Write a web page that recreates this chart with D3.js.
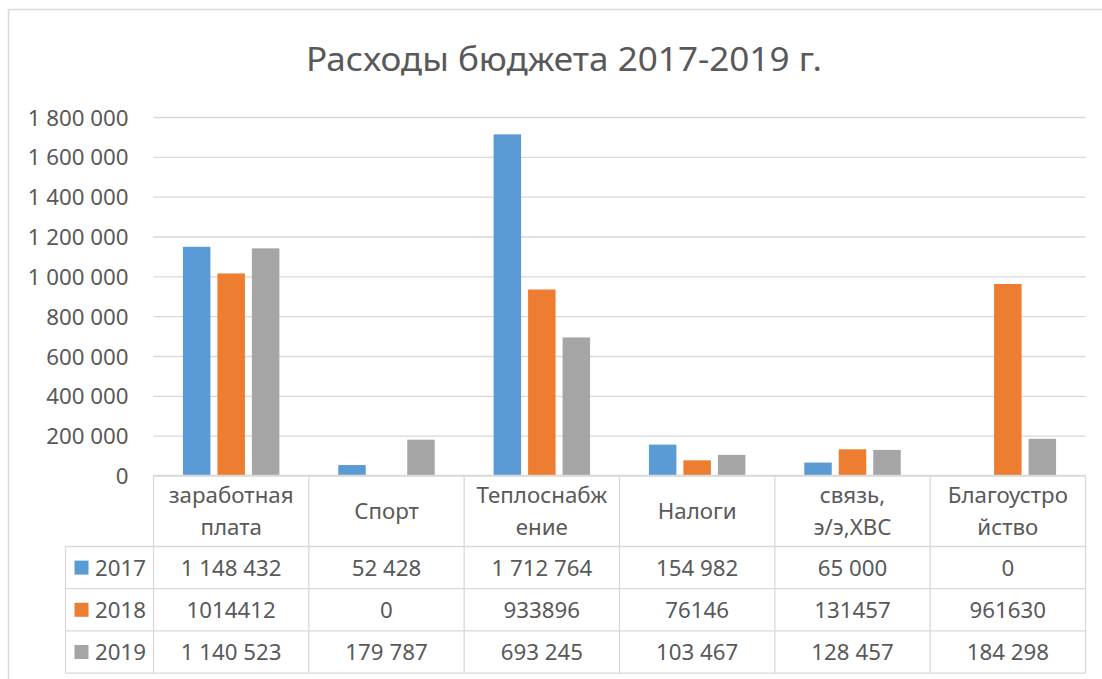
<!DOCTYPE html>
<html>
<head>
<meta charset="utf-8">
<script src="https://cdn.jsdelivr.net/npm/d3@7"></script>
<style>
  html, body { margin: 0; padding: 0; background: #fff; }
  svg { display: block; }
  text { font-family: "Noto Sans", "Open Sans", sans-serif; fill: #595959; }
</style>
</head>
<body>
<div id="chart"></div>
<script>
// ---- data ----
const title = "Расходы бюджета 2017-2019 г.";
const categories = ["заработная\nплата", "Спорт", "Теплоснабж\nение", "Налоги", "связь,\nэ/э,ХВС", "Благоустро\nйство"];
const series = ["2017", "2018", "2019"];
const values2017 = [1148432, 52428, 1712764, 154982, 65000, 0];
const values2018 = [1014412, 0, 933896, 76146, 131457, 961630];
const values2019 = [1140523, 179787, 693245, 103467, 128457, 184298];
const labels2017 = ["1 148 432", "52 428", "1 712 764", "154 982", "65 000", "0"];
const labels2018 = ["1014412", "0", "933896", "76146", "131457", "961630"];
const labels2019 = ["1 140 523", "179 787", "693 245", "103 467", "128 457", "184 298"];
const yTicks = [0, 200000, 400000, 600000, 800000, 1000000, 1200000, 1400000, 1600000, 1800000];
const colors = ["#5B9BD5", "#ED7D31", "#A5A5A5"];

const allValues = [values2017, values2018, values2019];
const allLabels = [labels2017, labels2018, labels2019];

// ---- layout ----
const W = 1102, H = 679;
const plotLeft = 153.5, plotRight = 1085.5, plotTop = 117, plotBottom = 475.5;
const legendLeft = 65.5;
const headerBottom = 546.5;
const rowH = 42.2;
const gridColor = "#d9d9d9";

const svg = d3.select("#chart").append("svg").attr("width", W).attr("height", H);

// chart frame
svg.append("rect").attr("x", 8.5).attr("y", 9.5).attr("width", 1200).attr("height", 800)
  .attr("fill", "#fff").attr("stroke", gridColor).attr("stroke-width", 1.5);

// title
svg.append("text").attr("x", 306).attr("y", 71)
  .attr("font-size", 32.5).attr("textLength", 516).attr("lengthAdjust", "spacingAndGlyphs")
  .text(title);

const x = d3.scaleBand().domain(d3.range(categories.length)).range([plotLeft, plotRight]).paddingInner(0).paddingOuter(0);
const xs = d3.scaleBand().domain(series).range([0, x.bandwidth()]).paddingInner(0.203).paddingOuter(0.853);
const y = d3.scaleLinear().domain([0, 1800000]).range([plotBottom, plotTop]);

// gridlines
const yAxis = d3.axisLeft(y).tickValues(yTicks).tickSize(-(plotRight - plotLeft))
  .tickFormat(d => d3.format(",")(d).replace(/,/g, " "));
const gy = svg.append("g").attr("transform", `translate(${plotLeft},0)`).call(yAxis);
gy.select(".domain").remove();
gy.selectAll(".tick line").attr("stroke", gridColor).attr("stroke-width", 1.3);
gy.selectAll(".tick text").attr("x", -25).attr("font-size", 22.3).attr("fill", "#595959")
  .attr("font-family", "Noto Sans, sans-serif").attr("dy", "0.36em");

// bars
series.forEach((s, si) => {
  svg.append("g").selectAll("rect").data(allValues[si]).join("rect")
    .attr("x", (d, i) => x(i) + xs(s))
    .attr("width", xs.bandwidth())
    .attr("y", d => y(d))
    .attr("height", d => plotBottom - y(d))
    .attr("fill", colors[si]);
});

// table lines
const tbl = svg.append("g").attr("stroke", gridColor).attr("stroke-width", 1.3).attr("fill", "none");
const tableBottom = headerBottom + rowH * 3;
// horizontal lines
tbl.append("line").attr("x1", plotLeft).attr("x2", plotRight).attr("y1", plotBottom).attr("y2", plotBottom);
for (let r = 0; r <= 3; r++) {
  const yy = headerBottom + r * rowH;
  tbl.append("line").attr("x1", legendLeft).attr("x2", plotRight).attr("y1", yy).attr("y2", yy);
}
// vertical lines
tbl.append("line").attr("x1", legendLeft).attr("x2", legendLeft).attr("y1", headerBottom).attr("y2", tableBottom);
for (let c = 0; c <= categories.length; c++) {
  const xx = c < categories.length ? x(c) : plotRight;
  tbl.append("line").attr("x1", xx).attr("x2", xx).attr("y1", plotBottom).attr("y2", tableBottom);
}

// header labels
categories.forEach((cat, i) => {
  const lines = cat.split("\n");
  const cx = x(i) + x.bandwidth() / 2;
  const cy = (plotBottom + headerBottom) / 2;
  const lh = 32.5;
  lines.forEach((ln, li) => {
    svg.append("text").attr("x", cx).attr("y", cy + (li - (lines.length - 1) / 2) * lh)
      .attr("dy", "0.36em").attr("text-anchor", "middle").attr("font-size", 22.3).text(ln);
  });
});

// data rows
series.forEach((s, si) => {
  const cy = headerBottom + rowH * si + rowH / 2;
  svg.append("rect").attr("x", 74.5).attr("y", cy - 7).attr("width", 14).attr("height", 14).attr("fill", colors[si]);
  svg.append("text").attr("x", 95).attr("y", cy).attr("dy", "0.36em").attr("font-size", 22.3).text(s);
  allLabels[si].forEach((lab, i) => {
    svg.append("text").attr("x", x(i) + x.bandwidth() / 2).attr("y", cy).attr("dy", "0.36em")
      .attr("text-anchor", "middle").attr("font-size", 22.3).text(lab);
  });
});
</script>
</body>
</html>
